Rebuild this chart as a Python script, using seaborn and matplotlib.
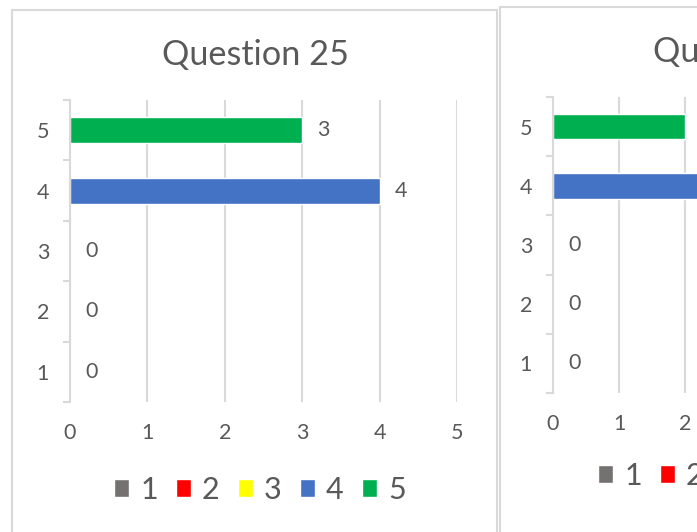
import numpy as np
import pandas as pd
import matplotlib
matplotlib.use("Agg")
import matplotlib.pyplot as plt
from matplotlib.patches import Rectangle
import seaborn as sns

categories = ["1", "2", "3", "4", "5"]
q25_counts = [0, 0, 0, 4, 3]
q26_counts = [0, 0, 0, 5, 2]
titles = ["Question 25", "Question 26"]
colors = {"1": "#767171", "2": "#FF0000", "3": "#FFFF00", "4": "#4472C4", "5": "#00B050"}

sns.set_theme(style="white")
plt.rcParams["font.family"] = ["Lato", "DejaVu Sans"]
text_col = "#595959"
grid_col = "#D9D9D9"

W, H = 697, 532
fig = plt.figure(figsize=(W / 100, H / 100), dpi=100)


def px_box(x0, y0, x1, y1):
    # pixel box (top-left origin) -> figure fraction [left, bottom, width, height]
    return [x0 / W, 1 - y1 / H, (x1 - x0) / W, (y1 - y0) / H]


def draw_chart(box, counts, xmax, title, title_xy, legend_xy):
    ax = fig.add_axes(px_box(*box))
    df = pd.DataFrame({"Answer": categories, "Count": counts})
    sns.barplot(data=df, x="Count", y="Answer", hue="Answer",
                order=categories[::-1], hue_order=categories, palette=colors,
                orient="h", width=0.43, dodge=False, saturation=1, ax=ax, legend=True)
    for cont in ax.containers:
        ax.bar_label(cont, fmt="%g", padding=11, fontsize=15.5, color=text_col)

    ax.set_xlim(0, xmax)
    ax.set_xticks(range(xmax + 1))
    ax.set_ylim(4.5, -0.5)
    ax.set_xlabel("")
    ax.set_ylabel("")
    ax.xaxis.grid(True, color=grid_col, lw=1.5)
    ax.yaxis.grid(False)
    ax.set_axisbelow(True)
    for side in ["top", "right", "bottom"]:
        ax.spines[side].set_visible(False)
    ax.spines["left"].set_color(grid_col)
    ax.spines["left"].set_linewidth(1.5)
    ax.set_yticks(np.arange(-0.5, 5, 1), minor=True)
    ax.tick_params(axis="y", which="minor", length=5, width=1.5, color=grid_col, left=True)
    ax.tick_params(axis="y", which="major", length=0, pad=15, labelsize=15.5, labelcolor=text_col)
    ax.tick_params(axis="x", length=0, pad=15, labelsize=15.5, labelcolor=text_col)

    handles, labels = ax.get_legend_handles_labels()
    ax.get_legend().remove()
    fig.legend(handles, labels, loc="center", bbox_to_anchor=(legend_xy[0] / W, 1 - legend_xy[1] / H),
               ncol=5, frameon=False, fontsize=22, labelcolor=text_col,
               handlelength=0.5, handleheight=0.5, handletextpad=0.35, columnspacing=0.6)
    fig.text(title_xy[0] / W, 1 - title_xy[1] / H, title, ha="center", va="center",
             fontsize=24.7, color=text_col)
    return ax


# chart frames
fig.patches.append(Rectangle((12 / W, -0.1), (497 - 12) / W, 1.1 - 10 / H, transform=fig.transFigure,
                             fill=False, ec=grid_col, lw=1.5))
fig.patches.append(Rectangle((500 / W, -0.1), 485 / W, 1.1 - 7 / H, transform=fig.transFigure,
                             fill=False, ec=grid_col, lw=1.5))

draw_chart((70, 100, 457, 402), q25_counts, 5, titles[0], (255, 55), (260, 490))
draw_chart((553, 97, 949, 393), q26_counts, 6, titles[1], (746, 52), (744, 476))

fig.savefig("out.png", dpi=100)
